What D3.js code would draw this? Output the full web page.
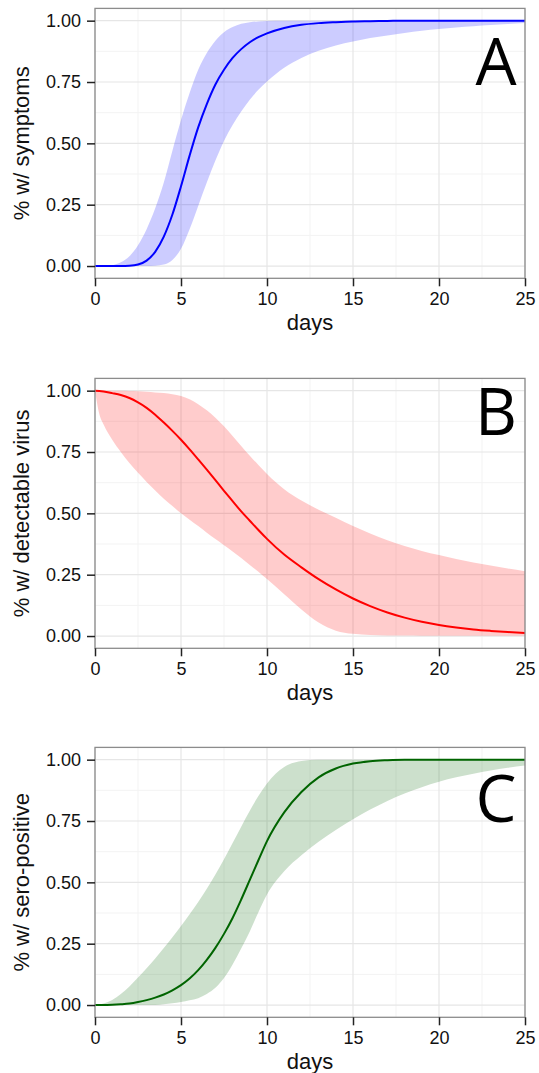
<!DOCTYPE html>
<html>
<head>
<meta charset="utf-8">
<script src="https://cdn.jsdelivr.net/npm/d3@7"></script>
<style>
  body { margin: 0; background: #fff; }
  .tick text { font-family: "Liberation Sans", Arial, sans-serif; fill: #111; }
</style>
</head>
<body>
<div class="graph"></div>
<script>
var days = [0, 0.25, 0.5, 1, 1.5, 2, 2.5, 3, 3.5, 4, 4.5, 5, 5.5, 6, 6.5, 7, 7.5, 8, 8.5, 9, 9.5,
            10, 11, 12, 13, 14, 15, 16, 17, 18, 19, 20, 21, 22, 23, 24, 25];

// A: symptoms
var symptomsMean = [0, 0, 0, 0, 0, 0.001, 0.006, 0.022, 0.058, 0.12, 0.21, 0.325, 0.45, 0.565, 0.66, 0.74, 0.80, 0.848, 0.884, 0.912, 0.933,
                    0.948, 0.97, 0.983, 0.99, 0.994, 0.997, 0.998, 0.999, 1, 1, 1, 1, 1, 1, 1, 1];
var symptomsHigh = [0, 0, 0, 0.003, 0.015, 0.04, 0.085, 0.15, 0.235, 0.34, 0.47, 0.595, 0.705, 0.80, 0.868, 0.918, 0.953, 0.974, 0.987, 0.994, 0.997,
                    0.999, 1, 1, 1, 1, 1, 1, 1, 1, 1, 1, 1, 1, 1, 1, 1];
var symptomsLow = [0, 0, 0, 0, 0, 0, 0, 0, 0.001, 0.006, 0.025, 0.07, 0.15, 0.245, 0.34, 0.43, 0.51, 0.575, 0.63, 0.678, 0.718,
                   0.752, 0.808, 0.848, 0.877, 0.899, 0.915, 0.929, 0.94, 0.95, 0.959, 0.966, 0.972, 0.977, 0.982, 0.986, 0.99];

// B: detectable virus
var virusMean = [1, 0.999, 0.997, 0.99, 0.982, 0.97, 0.952, 0.93, 0.902, 0.87, 0.836, 0.80, 0.761, 0.72, 0.678, 0.635, 0.592, 0.55, 0.508, 0.47, 0.432,
                 0.396, 0.332, 0.28, 0.232, 0.19, 0.153, 0.122, 0.096, 0.075, 0.058, 0.045, 0.035, 0.027, 0.021, 0.016, 0.012];
var virusHigh = [1, 1, 1, 1, 1, 0.999, 0.998, 0.996, 0.993, 0.99, 0.985, 0.978, 0.965, 0.945, 0.92, 0.89, 0.855, 0.815, 0.775, 0.735, 0.697,
                 0.66, 0.598, 0.552, 0.515, 0.482, 0.448, 0.418, 0.39, 0.367, 0.347, 0.33, 0.314, 0.30, 0.287, 0.275, 0.264];
var virusLow = [1, 0.905, 0.862, 0.80, 0.75, 0.705, 0.665, 0.628, 0.593, 0.56, 0.53, 0.50, 0.474, 0.448, 0.421, 0.395, 0.37, 0.345, 0.318, 0.29, 0.262,
                0.232, 0.17, 0.108, 0.055, 0.022, 0.009, 0.004, 0.002, 0.002, 0.001, 0.001, 0.001, 0.001, 0.001, 0.001, 0.001];

// C: sero-positive
var seroMean = [0, 0, 0, 0.001, 0.003, 0.006, 0.012, 0.02, 0.03, 0.043, 0.06, 0.081, 0.108, 0.142, 0.184, 0.233, 0.29, 0.355, 0.43, 0.51, 0.59,
                0.668, 0.785, 0.868, 0.928, 0.964, 0.984, 0.994, 0.998, 1, 1, 1, 1, 1, 1, 1, 1];
var seroHigh = [0, 0.002, 0.006, 0.021, 0.045, 0.076, 0.112, 0.15, 0.19, 0.232, 0.276, 0.322, 0.37, 0.42, 0.474, 0.532, 0.594, 0.66, 0.727, 0.792, 0.852,
                0.903, 0.97, 0.995, 1, 1, 1, 1, 1, 1, 1, 1, 1, 1, 1, 1, 1];
var seroLow = [0, 0, 0, 0, 0, 0, 0, 0, 0, 0.003, 0.007, 0.012, 0.019, 0.028, 0.045, 0.07, 0.11, 0.165, 0.23, 0.30, 0.378,
               0.45, 0.545, 0.61, 0.665, 0.713, 0.757, 0.797, 0.832, 0.862, 0.888, 0.91, 0.928, 0.943, 0.956, 0.967, 0.976];

var xTicks = [0, 5, 10, 15, 20, 25];
var xMinor = [2.5, 7.5, 12.5, 17.5, 22.5];
var yTicks = [0, 0.25, 0.5, 0.75, 1];
var yMinor = [0.125, 0.375, 0.625, 0.875];

var panels = [
    {top: 0,   label: "A", labelY: 85, title: "% w/ symptoms",         mean: symptomsMean, low: symptomsLow, high: symptomsHigh, color: "#0000ff"},
    {top: 370, label: "B", labelY: 65, title: "% w/ detectable virus", mean: virusMean,    low: virusLow,    high: virusHigh,    color: "#ff0000"},
    {top: 739, label: "C", labelY: 83, title: "% w/ sero-positive",    mean: seroMean,     low: seroLow,     high: seroHigh,     color: "#006400"}
];

var loadChart = function () {
    const WIDTH = 539;
    const HEIGHT = 1073;
    const LEFT = 95;
    const RIGHT = 525;
    const TOP = 8.4;
    const BOTTOM = 278.3;

    var xScale = d3.scaleLinear().domain([0, 25]).range([LEFT, RIGHT]);
    var yScale = d3.scaleLinear().domain([-0.05, 1.05]).range([BOTTOM, TOP]);

    var svg = d3.select(".graph").append("svg")
        .attr("width", WIDTH)
        .attr("height", HEIGHT)
        .style("display", "block");

    svg.append("rect").attr("width", WIDTH).attr("height", HEIGHT).attr("fill", "#fff");

    panels.forEach(function (p) {
        var g = svg.append("g").attr("transform", "translate(0," + p.top + ")");

        // grid
        g.selectAll(".xminor").data(xMinor).enter().append("line")
            .attr("x1", d => xScale(d)).attr("x2", d => xScale(d))
            .attr("y1", TOP).attr("y2", BOTTOM)
            .style("stroke", "#f3f3f3").style("stroke-width", 1);
        g.selectAll(".yminor").data(yMinor).enter().append("line")
            .attr("x1", LEFT).attr("x2", RIGHT)
            .attr("y1", d => yScale(d)).attr("y2", d => yScale(d))
            .style("stroke", "#f3f3f3").style("stroke-width", 1);
        g.selectAll(".xmajor").data(xTicks).enter().append("line")
            .attr("x1", d => xScale(d)).attr("x2", d => xScale(d))
            .attr("y1", TOP).attr("y2", BOTTOM)
            .style("stroke", "#e6e6e6").style("stroke-width", 1.2);
        g.selectAll(".ymajor").data(yTicks).enter().append("line")
            .attr("x1", LEFT).attr("x2", RIGHT)
            .attr("y1", d => yScale(d)).attr("y2", d => yScale(d))
            .style("stroke", "#e6e6e6").style("stroke-width", 1.2);

        var rows = days.map(function (d, i) {
            return {day: d, mean: p.mean[i], low: p.low[i], high: p.high[i]};
        });

        var area = d3.area()
            .x(d => xScale(d.day))
            .y0(d => yScale(d.low))
            .y1(d => yScale(d.high))
            .curve(d3.curveMonotoneX);
        var line = d3.line()
            .x(d => xScale(d.day))
            .y(d => yScale(d.mean))
            .curve(d3.curveMonotoneX);

        g.append("path").datum(rows)
            .attr("d", area)
            .style("fill", p.color)
            .style("fill-opacity", 0.2);
        g.append("path").datum(rows)
            .attr("d", line)
            .style("fill", "none")
            .style("stroke", p.color)
            .style("stroke-width", 2);

        // panel border
        g.append("rect")
            .attr("x", LEFT).attr("y", TOP)
            .attr("width", RIGHT - LEFT).attr("height", BOTTOM - TOP)
            .style("fill", "none").style("stroke", "#8c8c8c").style("stroke-width", 1.3);

        var yAxis = d3.axisLeft(yScale).tickValues(yTicks).tickSize(8).tickPadding(6)
            .tickFormat(d3.format(".2f"));
        var ya = g.append("g").attr("transform", "translate(" + LEFT + ",0)").call(yAxis);
        ya.select(".domain").remove();
        ya.selectAll("line").style("stroke", "#222").style("stroke-width", 1.5);
        ya.selectAll("text").style("font-size", "18px");

        var xAxis = d3.axisBottom(xScale).tickValues(xTicks).tickSize(8).tickPadding(6);
        var xa = g.append("g").attr("transform", "translate(0," + BOTTOM + ")").call(xAxis);
        xa.select(".domain").remove();
        xa.selectAll("line").style("stroke", "#222").style("stroke-width", 1.5);
        xa.selectAll("text").style("font-size", "18px");

        g.append("text")
            .attr("x", (LEFT + RIGHT) / 2).attr("y", 330)
            .attr("text-anchor", "middle")
            .style("font-family", "Liberation Sans, Arial, sans-serif")
            .style("font-size", "22px").style("fill", "#111")
            .text("days");

        g.append("text")
            .attr("transform", "translate(29," + yScale(0.5) + ") rotate(-90)")
            .attr("text-anchor", "middle")
            .style("font-family", "Liberation Sans, Arial, sans-serif")
            .style("font-size", "22px").style("fill", "#111")
            .text(p.title);

        g.append("text")
            .attr("x", 496).attr("y", p.labelY)
            .attr("text-anchor", "middle")
            .style("font-family", "Open Sans, sans-serif")
            .style("font-size", "65px").style("fill", "#000")
            .text(p.label);
    });
};

window.onload = loadChart();
</script>
</body>
</html>
